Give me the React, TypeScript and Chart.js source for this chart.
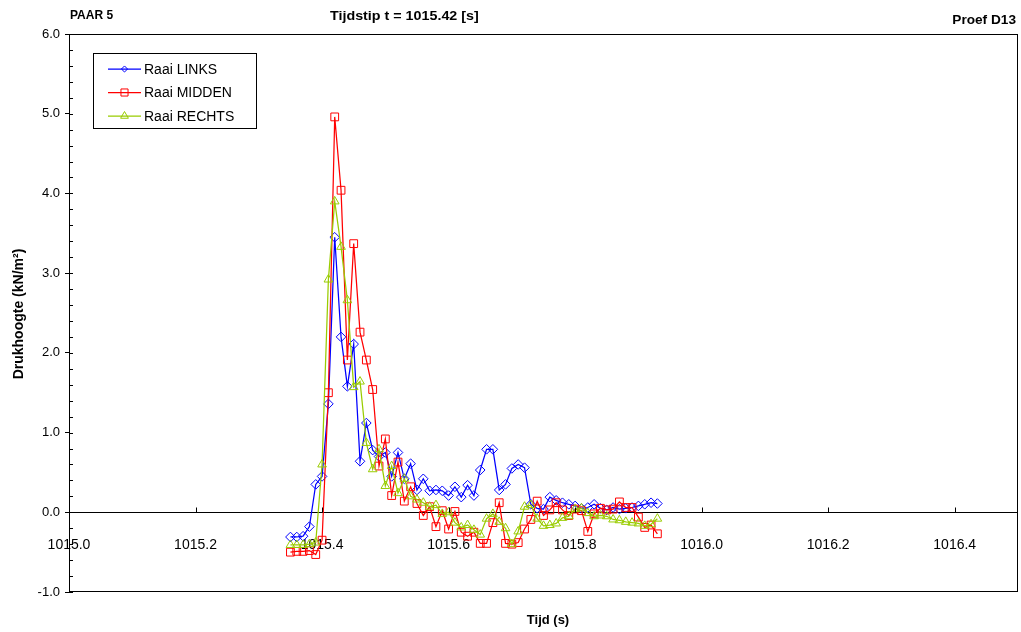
import React, { useEffect, useRef } from "react";
import { Chart, registerables } from "chart.js";

Chart.register(...registerables);

// ---- Data -------------------------------------------------------------
const TIMES = [
  1015.35, 1015.36, 1015.37, 1015.38, 1015.39, 1015.40, 1015.41, 1015.42, 1015.43, 1015.44,
  1015.45, 1015.46, 1015.47, 1015.48, 1015.49, 1015.50, 1015.51, 1015.52, 1015.53, 1015.54,
  1015.55, 1015.56, 1015.57, 1015.58, 1015.59, 1015.60, 1015.61, 1015.62, 1015.63, 1015.64,
  1015.65, 1015.66, 1015.67, 1015.68, 1015.69, 1015.70, 1015.71, 1015.72, 1015.73, 1015.74,
  1015.75, 1015.76, 1015.77, 1015.78, 1015.79, 1015.80, 1015.81, 1015.82, 1015.83, 1015.84,
  1015.85, 1015.86, 1015.87, 1015.88, 1015.89, 1015.90, 1015.91, 1015.92, 1015.93,
];

const LINKS = [
  -0.31, -0.31, -0.30, -0.18, 0.35, 0.45, 1.36, 3.45, 2.20, 1.58,
  2.11, 0.64, 1.12, 0.78, 0.70, 0.75, 0.45, 0.75, 0.42, 0.61,
  0.28, 0.42, 0.27, 0.28, 0.27, 0.21, 0.32, 0.19, 0.34, 0.21,
  0.53, 0.79, 0.79, 0.28, 0.35, 0.55, 0.60, 0.56, 0.10, 0.05,
  0.04, 0.19, 0.15, 0.12, 0.10, 0.08, 0.05, 0.06, 0.10, 0.05,
  0.03, 0.06, 0.04, 0.05, 0.06, 0.08, 0.10, 0.12, 0.11,
];

const MIDDEN = [
  -0.50, -0.49, -0.49, -0.48, -0.53, -0.35, 1.50, 4.96, 4.04, 1.91,
  3.37, 2.26, 1.91, 1.54, 0.58, 0.92, 0.21, 0.63, 0.14, 0.32,
  0.11, -0.04, 0.07, -0.18, 0.02, -0.21, 0.01, -0.25, -0.30, -0.25,
  -0.39, -0.39, -0.13, 0.12, -0.39, -0.40, -0.38, -0.21, -0.09, 0.14,
  -0.04, 0.03, 0.12, 0.03, -0.04, 0.04, 0.02, -0.24, -0.02, 0.05,
  0.03, 0.04, 0.13, 0.06, 0.06, -0.06, -0.19, -0.16, -0.27,
];

const RECHTS = [
  -0.41, -0.41, -0.41, -0.40, -0.38, 0.60, 2.92, 3.90, 3.33, 2.66,
  1.57, 1.64, 0.87, 0.54, 0.79, 0.33, 0.58, 0.24, 0.42, 0.20,
  0.16, 0.12, 0.07, 0.09, -0.02, 0.00, -0.13, -0.19, -0.16, -0.22,
  -0.28, -0.08, -0.02, -0.12, -0.20, -0.40, -0.24, 0.07, 0.09, -0.08,
  -0.17, -0.16, -0.14, -0.07, -0.05, 0.04, 0.05, -0.01, -0.05, -0.04,
  -0.05, -0.09, -0.10, -0.12, -0.13, -0.14, -0.17, -0.15, -0.08,
];

const SERIES_LABELS = ["Raai LINKS", "Raai MIDDEN", "Raai RECHTS"];
const X_TICKS = [1015.0, 1015.2, 1015.4, 1015.6, 1015.8, 1016.0, 1016.2, 1016.4];
const Y_TICKS = [-1, 0, 1, 2, 3, 4, 5, 6];
const Y_MINOR_STEP = 0.2;

const TITLE_LEFT = "PAAR 5";
const TITLE_CENTER = "Tijdstip t = 1015.42 [s]";
const TITLE_RIGHT = "Proef D13";
const X_TITLE = "Tijd (s)";
const Y_TITLE = "Drukhoogte (kN/m²)";

// ---- Styles -----------------------------------------------------------
const FONT = '"Liberation Sans", Arial, sans-serif';
const COLORS = ["#0000FF", "#FF0000", "#99CC00"];
const SHAPES = ["rectRot", "rect", "triangle"];
const RADII = [4.8, 5.5, 5];

function drawMarker(ctx: CanvasRenderingContext2D, shape: string, x: number, y: number, r: number) {
  ctx.beginPath();
  if (shape === "rectRot") {
    const s = r * Math.SQRT1_2;
    ctx.moveTo(x - s, y);
    ctx.lineTo(x, y + s);
    ctx.lineTo(x + s, y);
    ctx.lineTo(x, y - s);
    ctx.closePath();
  } else if (shape === "rect") {
    const s = r * Math.SQRT1_2;
    ctx.rect(x - s, y - s, 2 * s, 2 * s);
  } else {
    const h = r * 1.5;
    const w = r * Math.sqrt(3);
    ctx.moveTo(x - w / 2, y + h / 3);
    ctx.lineTo(x + w / 2, y + h / 3);
    ctx.lineTo(x, y - (2 * h) / 3);
    ctx.closePath();
  }
  ctx.stroke();
}

function wideText(ctx: CanvasRenderingContext2D, text: string, x: number, y: number, sx: number) {
  ctx.save();
  ctx.translate(x, y);
  ctx.scale(sx, 1);
  ctx.fillText(text, 0, 0);
  ctx.restore();
}

const decorPlugin = {
  id: "decor",
  beforeDatasetsDraw(chart: any) {
    const { ctx, chartArea: a, scales } = chart;
    const ys = scales.y;
    const y0 = Math.round(ys.getPixelForValue(0)) + 0.5;
    ctx.save();
    ctx.strokeStyle = "#000";
    ctx.lineWidth = 1;
    ctx.beginPath();
    ctx.moveTo(a.left, y0);
    ctx.lineTo(a.right, y0);
    ctx.stroke();
    ctx.restore();
  },
  afterDraw(chart: any) {
    const { ctx, chartArea: a, scales } = chart;
    const xs = scales.x;
    const ys = scales.y;
    ctx.save();

    // plot border
    ctx.strokeStyle = "#000";
    ctx.lineWidth = 1;
    ctx.strokeRect(a.left + 0.5, a.top + 0.5, a.right - a.left - 1, a.bottom - a.top - 1);

    // x tick marks (inside, upwards from zero line)
    const y0 = Math.round(ys.getPixelForValue(0)) + 0.5;
    ctx.beginPath();
    for (const t of X_TICKS) {
      const px = Math.round(xs.getPixelForValue(t)) + 0.5;
      ctx.moveTo(px, y0);
      ctx.lineTo(px, y0 - 5);
    }
    ctx.stroke();

    // y minor ticks inside
    ctx.beginPath();
    const yMin = Y_TICKS[0];
    const yMax = Y_TICKS[Y_TICKS.length - 1];
    const n = Math.round((yMax - yMin) / Y_MINOR_STEP);
    for (let i = 0; i <= n; i++) {
      const v = yMin + i * Y_MINOR_STEP;
      const py = Math.round(ys.getPixelForValue(v)) + 0.5;
      ctx.moveTo(a.left, py);
      ctx.lineTo(a.left + 4, py);
    }
    ctx.stroke();

    // titles
    ctx.fillStyle = "#000";
    ctx.textBaseline = "middle";
    ctx.textAlign = "left";
    ctx.font = `bold 12px ${FONT}`;
    ctx.fillText(TITLE_LEFT, 70, 16);
    ctx.font = `bold 13px ${FONT}`;
    wideText(ctx, TITLE_CENTER, 330, 16, 1.1);
    ctx.textAlign = "right";
    wideText(ctx, TITLE_RIGHT, 1016, 20, 1.05);
    ctx.textAlign = "center";
    ctx.font = `bold 13px ${FONT}`;
    ctx.fillText(X_TITLE, 548, 620);
    ctx.save();
    ctx.translate(19, 314);
    ctx.rotate(-Math.PI / 2);
    ctx.font = `bold 14px ${FONT}`;
    ctx.fillText(Y_TITLE, 0, 0);
    ctx.restore();

    // legend
    const lx = 93, ly = 53, lw = 163, lh = 75;
    ctx.fillStyle = "#fff";
    ctx.fillRect(lx, ly, lw, lh);
    ctx.strokeStyle = "#000";
    ctx.lineWidth = 1;
    ctx.strokeRect(lx + 0.5, ly + 0.5, lw, lh);
    ctx.font = `14px ${FONT}`;
    ctx.textAlign = "left";
    ctx.textBaseline = "middle";
    for (let i = 0; i < SERIES_LABELS.length; i++) {
      const ry = ly + 16 + i * 23.5;
      ctx.strokeStyle = COLORS[i];
      ctx.lineWidth = 1.25;
      ctx.beginPath();
      ctx.moveTo(108, ry);
      ctx.lineTo(141, ry);
      ctx.stroke();
      ctx.lineWidth = 1;
      drawMarker(ctx, SHAPES[i], 124.5, ry, RADII[i] - 0.5);
      ctx.fillStyle = "#000";
      ctx.fillText(SERIES_LABELS[i], 144, ry + 1);
    }
    ctx.restore();
  },
};

export default function App() {
  const ref = useRef<HTMLCanvasElement | null>(null);

  useEffect(() => {
    if (!ref.current) return;
    const series = [LINKS, MIDDEN, RECHTS];
    const datasets = series.map((vals, i) => ({
      label: SERIES_LABELS[i],
      data: vals.map((v, j) => ({ x: TIMES[j], y: v })),
      borderColor: COLORS[i],
      backgroundColor: "rgba(0,0,0,0)",
      borderWidth: 1.25,
      pointStyle: SHAPES[i],
      pointRadius: RADII[i],
      pointBorderWidth: 1,
      pointBorderColor: COLORS[i],
      pointBackgroundColor: "rgba(0,0,0,0)",
      showLine: true,
      tension: 0,
      order: 2 - i,
    }));

    const chart = new Chart(ref.current, {
      type: "scatter",
      data: { datasets },
      options: {
        animation: false,
        responsive: false,
        maintainAspectRatio: false,
        events: [],
        layout: { autoPadding: false, padding: { left: 0, top: 34, right: 3, bottom: 40 } },
        plugins: {
          legend: { display: false },
          tooltip: { enabled: false },
          title: { display: false },
        },
        scales: {
          x: {
            type: "linear",
            position: { y: 0 } as any,
            min: 1015.0,
            max: 1016.5,
            afterFit: (s: any) => {
              s.height = 0;
              s.paddingLeft = 0;
              s.paddingRight = 0;
            },
            afterBuildTicks: (s: any) => {
              s.ticks = X_TICKS.map((v) => ({ value: v }));
            },
            ticks: {
              autoSkip: false,
              maxRotation: 0,
              minRotation: 0,
              padding: 16,
              color: "#000",
              font: { family: FONT, size: 14 },
              callback: (v: any) => Number(v).toFixed(1),
            },
            grid: { display: false },
            border: { display: false },
          },
          y: {
            type: "linear",
            min: -1,
            max: 6,
            afterFit: (s: any) => {
              s.width = 69;
              s.paddingTop = 0;
              s.paddingBottom = 0;
            },
            afterBuildTicks: (s: any) => {
              s.ticks = Y_TICKS.map((v) => ({ value: v }));
            },
            ticks: {
              padding: 5,
              color: "#000",
              font: { family: FONT, size: 13 },
              callback: (v: any) => Number(v).toFixed(1),
            },
            grid: { display: true, drawOnChartArea: false, drawTicks: true, tickLength: 4, color: "#000" },
            border: { display: true, color: "#000", width: 1 },
          },
        },
      },
      plugins: [decorPlugin],
    });
    return () => chart.destroy();
  }, []);

  return (
    <div style={{ position: "absolute", left: 0, top: 0, width: 1021, height: 632, background: "#fff" }}>
      <canvas ref={ref} width={1021} height={632} style={{ display: "block", width: 1021, height: 632 }} />
    </div>
  );
}
